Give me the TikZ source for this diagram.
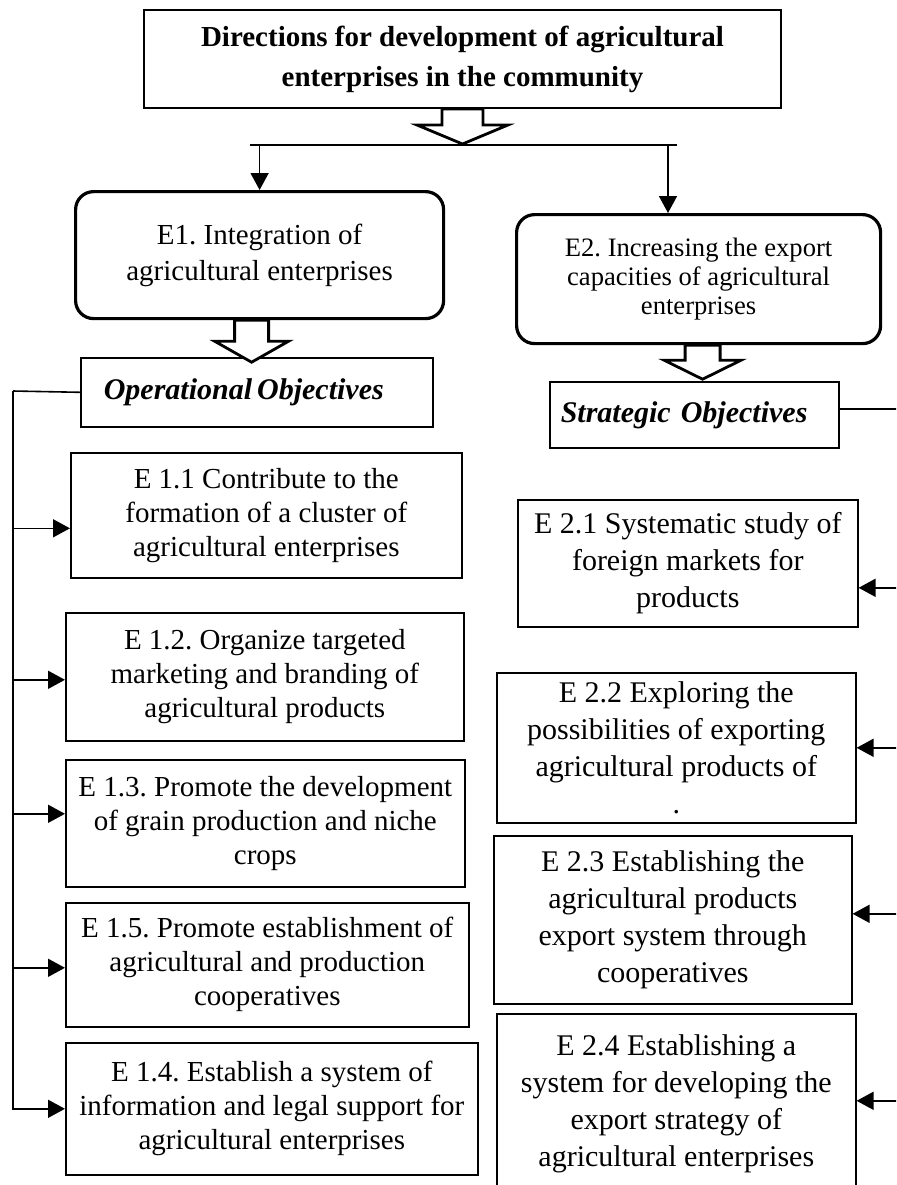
\documentclass[tikz,border=0pt]{standalone}
\usepackage{fontspec}
\setmainfont{Liberation Serif}
\usepackage{tikz}
\usetikzlibrary{positioning, arrows.meta, calc}
\frenchspacing

\newcommand{\fatarrow}[5]{%
  \draw[fatarr] (#1) ++(-#2,0) -- ++(0,#3) -- ++({#2-#4},0) -- ++(#4,#5) -- ++(#4,-#5) -- ++({#2-#4},0) -- ++(0,-#3) -- cycle;}

\begin{document}
\begin{tikzpicture}[x=0.5pt, y=-0.5pt, >=Stealth,
        box/.style={draw, line width=0.8pt, align=center, inner sep=2pt, anchor=north west, font=\fontsize{14.5}{17}\selectfont},
        rbox/.style={box, line width=1.6pt, rounded corners=9pt},
        ebox/.style={box, font=\fontsize{15}{18.5}\selectfont},
        obj/.style={box, align=left, font=\fontsize{15}{18}\selectfont\bfseries\itshape},
        arr/.style={-{Triangle[length=8.5pt,width=9pt]}, line width=0.8pt},
        fatarr/.style={line width=1.4pt, fill=white, line join=miter}]
        \useasboundingbox (0,0) rectangle (896,1185);
        \clip (0,0) rectangle (896,1185);
        \node[box, line width=1pt, font=\fontsize{14.5}{20}\selectfont\bfseries, minimum width=318.5pt, minimum height=49pt] (title) at (143,9) {Directions for development of agricultural\\enterprises in the community};
        \node[rbox, minimum width=184pt, minimum height=63.5pt, font=\fontsize{14.5}{18}\selectfont] (e1) at (74,190) {E1. Integration of\\agricultural enterprises};
        \node[rbox, minimum width=182pt, minimum height=64.5pt, font=\fontsize{13.3}{14.5}\selectfont] (e2) at (515,213) {E2. Increasing the export\\capacities of agricultural\\enterprises};
        \node[obj, text width=153pt, inner xsep=11.5pt, minimum height=34.5pt] (opobj) at (80,357) {Operational\,Objectives};
        \node[obj, text width=133.5pt, inner xsep=5.5pt, minimum height=33pt] (strobj) at (549,381) {Strategic Objectives};
        \node[box, minimum width=195.5pt, minimum height=62.5pt] (e11) at (70,452) {E 1.1 Contribute to the\\formation of a cluster of\\agricultural enterprises};
        \node[box, minimum width=199pt, minimum height=64pt] (e12) at (65,612) {E 1.2. Organize targeted\\marketing and branding of\\agricultural products};
        \node[box, minimum width=199.5pt, minimum height=63.5pt] (e13) at (65,759) {E 1.3. Promote the development\\of grain production and niche\\crops};
        \node[box, minimum width=201.5pt, minimum height=62pt] (e15) at (65,902) {E 1.5. Promote establishment of\\agricultural and production\\cooperatives};
        \node[box, minimum width=206pt, minimum height=66pt] (e14) at (65,1042) {E 1.4. Establish a system of\\information and legal support for\\agricultural enterprises};
        \node[ebox, minimum width=170pt, minimum height=63.5pt] (e21) at (517,499) {E 2.1 Systematic study of\\foreign markets for\\products};
        \node[ebox, minimum width=179.5pt, minimum height=75pt] (e22) at (496,672) {E 2.2 Exploring the\\possibilities of exporting\\agricultural products of\\.};
        \node[ebox, minimum width=179pt, minimum height=84pt] (e23) at (493,835) {E 2.3 Establishing the\\agricultural products\\export system through\\cooperatives};
        \node[ebox, minimum width=179.5pt, minimum height=90pt] (e24) at (496,1013) {E 2.4 Establishing a\\system for developing the\\export strategy of\\agricultural enterprises};
        \coordinate (bl) at (250,145);
        \coordinate (br) at (677,145);
        \coordinate (j2) at (668,145);
        \coordinate (lb) at (13,391);
        \coordinate (rb) at (899,408);
        \fatarrow{title.south}{20.5}{16}{45.5}{19}
        \draw[line width=0.8pt] (bl) -- (br);
        \draw[arr] (e1.north |- bl) -- (e1.north);
        \draw[arr] (j2) -- (j2 |- e2.north);
        \fatarrow{[xshift=-4pt]e1.south}{17}{21}{37}{21}
        \fatarrow{[xshift=2pt]e2.south}{17.5}{15}{38.5}{19}
        \draw[line width=0.8pt] (opobj.west) -- (lb);
        \draw[arr] (lb) |- (e14.west);
        \foreach \n/\s in {e11/-6.5pt, e12/-1.5pt, e13/4.75pt, e15/-1.5pt} {
          \path ([yshift=\s]\n.west) coordinate (a\n);
          \draw[arr] (a\n -| lb) -- (a\n);
        }
        \path ([yshift=3pt]strobj.east) coordinate (s0);
        \draw[line width=0.8pt] (s0) -- (s0 -| rb) -- (rb |- e24.south);
        \foreach \n/\s in {e21/-12.25pt, e22/0pt, e23/3pt, e24/1.5pt} {
          \path ([yshift=\s]\n.east) coordinate (b\n);
          \draw[arr] (b\n -| rb) -- (b\n);
        }
      \end{tikzpicture}
\end{document}
